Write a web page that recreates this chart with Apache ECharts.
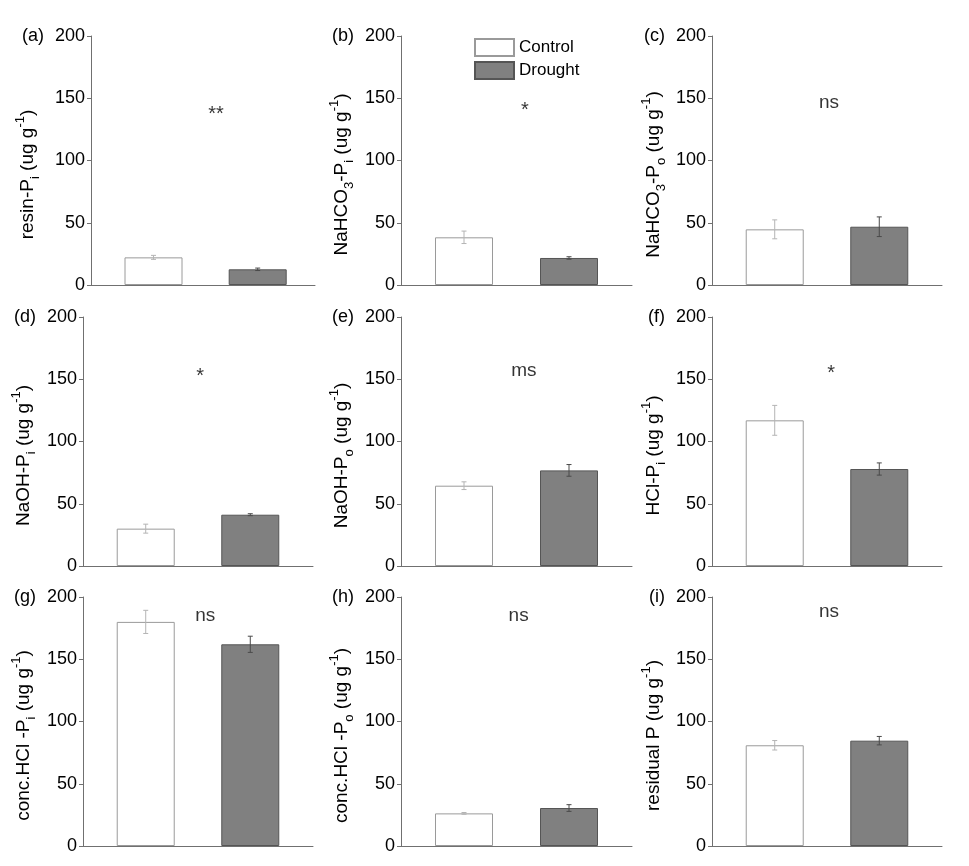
<!DOCTYPE html>
<html><head><meta charset="utf-8">
<script src="https://cdn.jsdelivr.net/npm/echarts@6/dist/echarts.min.js"></script>
<style>html,body{margin:0;padding:0;background:#fff}#c{width:969px;height:866px}</style>
</head><body><div id="c"></div>
<script>
// ---- data ----
const panelLetters = ['(a)','(b)','(c)','(d)','(e)','(f)','(g)','(h)','(i)'];
const yTitles = [
  '{t|resin-P}{sub|i}{t| (ug g}{sup|-1}{t|)}',
  '{t|NaHCO}{sub|3}{t|-P}{sub|i}{t| (ug g}{sup|-1}{t|)}',
  '{t|NaHCO}{sub|3}{t|-P}{sub|o}{t| (ug g}{sup|-1}{t|)}',
  '{t|NaOH-P}{sub|i}{t| (ug g}{sup|-1}{t|)}',
  '{t|NaOH-P}{sub|o}{t| (ug g}{sup|-1}{t|)}',
  '{t|HCl-P}{sub|i}{t| (ug g}{sup|-1}{t|)}',
  '{t|conc.HCl -P}{sub|i}{t| (ug g}{sup|-1}{t|)}',
  '{t|conc.HCl -P}{sub|o}{t| (ug g}{sup|-1}{t|)}',
  '{t|residual P (ug g}{sup|-1}{t|)}'
];
const groups = ['Control', 'Drought'];
const groupPos = [1, 2];
const controlMeans = [22.2, 38.3, 44.7, 30.0, 64.5, 117.0, 180.0, 26.2, 80.9];
const controlErr   = [1.6, 5.0, 7.6, 3.6, 3.1, 12.0, 9.3, 0.7, 3.8];
const droughtMeans = [12.6, 21.7, 46.8, 41.2, 76.8, 77.9, 162.0, 30.5, 84.6];
const droughtErr   = [1.0, 1.0, 7.9, 0.8, 4.7, 4.9, 6.5, 2.7, 3.4];
const sigLabels = ['**', '*', 'ns', '*', 'ms', '*', 'ns', 'ns', 'ns'];
const sigX = [1.6, 1.58, 1.52, 1.52, 1.57, 1.54, 1.57, 1.52, 1.52];
const sigY = [137, 140, 146, 152, 157, 155, 185, 185, 188];
const yTicks = [0, 50, 100, 150, 200];

// ---- layout ----
const lefts  = [91, 401, 712, 83, 401, 712, 83, 401, 712];
const widths = [224, 231, 230, 230, 231, 230, 230, 231, 230];
const tops   = [36, 36, 36, 317, 317, 317, 597, 597, 597];
const xMaxs  = [2.55, 2.6, 2.6, 2.6, 2.6, 2.6, 2.6, 2.6, 2.6];
const nameGaps = [49, 45, 44, 45, 45, 44, 45, 45, 44];
const plotH = 249;

const FONT = '"Liberation Sans", Arial, sans-serif';
const AXIS = '#707070';

const grid = [], xAxis = [], yAxis = [], series = [], graphic = [];

for (let i = 0; i < 9; i++) {
  grid.push({left: lefts[i], top: tops[i], width: widths[i], height: plotH});
  xAxis.push({
    type: 'value', gridIndex: i, min: 0.4, max: xMaxs[i],
    axisLine: {show: true, onZero: false, lineStyle: {color: AXIS, width: 1}},
    axisTick: {show: false}, axisLabel: {show: false}, splitLine: {show: false}
  });
  yAxis.push({
    type: 'value', gridIndex: i, min: yTicks[0], max: yTicks[yTicks.length - 1], interval: 50,
    axisLine: {show: true, lineStyle: {color: AXIS, width: 1}},
    axisTick: {show: true, length: 4, lineStyle: {color: AXIS}},
    axisLabel: {color: '#000', fontSize: 18, fontFamily: FONT, margin: 6},
    splitLine: {show: false},
    name: yTitles[i], nameLocation: 'middle', nameGap: nameGaps[i], nameRotate: 90,
    nameTextStyle: {
      padding: [0, 28, 0, 0],
      rich: {
        t: {fontSize: 19, fontFamily: FONT, color: '#000', lineHeight: 28, verticalAlign: 'middle'},
        sub: {fontSize: 13, fontFamily: FONT, color: '#000', lineHeight: 28, verticalAlign: 'bottom'},
        sup: {fontSize: 13, fontFamily: FONT, color: '#000', lineHeight: 28, verticalAlign: 'top'}
      }
    }
  });
  series.push({
    name: groups[0], type: 'bar', xAxisIndex: i, yAxisIndex: i, barWidth: 58, barGap: '-100%',
    itemStyle: {color: '#ffffff', borderColor: '#9a9a9a', borderWidth: 1},
    data: [[groupPos[0], controlMeans[i]]], z: 2
  });
  series.push({
    name: groups[1], type: 'bar', xAxisIndex: i, yAxisIndex: i, barWidth: 58, barGap: '-100%',
    itemStyle: {color: '#808080', borderColor: '#555555', borderWidth: 1},
    data: [[groupPos[1], droughtMeans[i]]], z: 2
  });
  series.push({
    type: 'custom', xAxisIndex: i, yAxisIndex: i, z: 5, silent: true,
    data: [
      [groupPos[0], controlMeans[i] - controlErr[i], controlMeans[i] + controlErr[i], 0],
      [groupPos[1], droughtMeans[i] - droughtErr[i], droughtMeans[i] + droughtErr[i], 1]
    ],
    renderItem: function (params, api) {
      const x = api.value(0);
      const pLo = api.coord([x, api.value(1)]);
      const pHi = api.coord([x, api.value(2)]);
      const col = api.value(3) === 0 ? '#b4b4b4' : '#4a4a4a';
      const hw = 2.5;
      const st = {stroke: col, lineWidth: 1};
      return {type: 'group', children: [
        {type: 'line', shape: {x1: pLo[0], y1: pLo[1], x2: pHi[0], y2: pHi[1]}, style: st},
        {type: 'line', shape: {x1: pHi[0] - hw, y1: pHi[1], x2: pHi[0] + hw, y2: pHi[1]}, style: st},
        {type: 'line', shape: {x1: pLo[0] - hw, y1: pLo[1], x2: pLo[0] + hw, y2: pLo[1]}, style: st}
      ]};
    }
  });
  series.push({
    type: 'scatter', xAxisIndex: i, yAxisIndex: i, symbolSize: 0, silent: true, z: 6,
    data: [{name: sigLabels[i], value: [sigX[i], sigY[i]]}],
    label: {show: true, position: 'inside', formatter: '{b}', color: '#000',
      fontSize: sigLabels[i].indexOf('*') >= 0 ? 20 : 19, fontFamily: FONT}
  });
  graphic.push({
    type: 'text', x: lefts[i] - 47, y: tops[i],
    style: {text: panelLetters[i], font: '18px ' + FONT, fill: '#000', align: 'right', verticalAlign: 'middle'}
  });
}

const chart = echarts.init(document.getElementById('c'), null, {renderer: 'canvas'});
chart.setOption({
  animation: false,
  backgroundColor: '#ffffff',
  grid, xAxis, yAxis, series, graphic,
  legend: {
    data: groups, orient: 'vertical', left: 474, top: 38, padding: 0,
    itemWidth: 39, itemHeight: 17, itemGap: 4, icon: 'rect', selectedMode: false,
    textStyle: {fontSize: 17, fontFamily: FONT, color: '#000'}
  }
});
</script>
</body></html>
